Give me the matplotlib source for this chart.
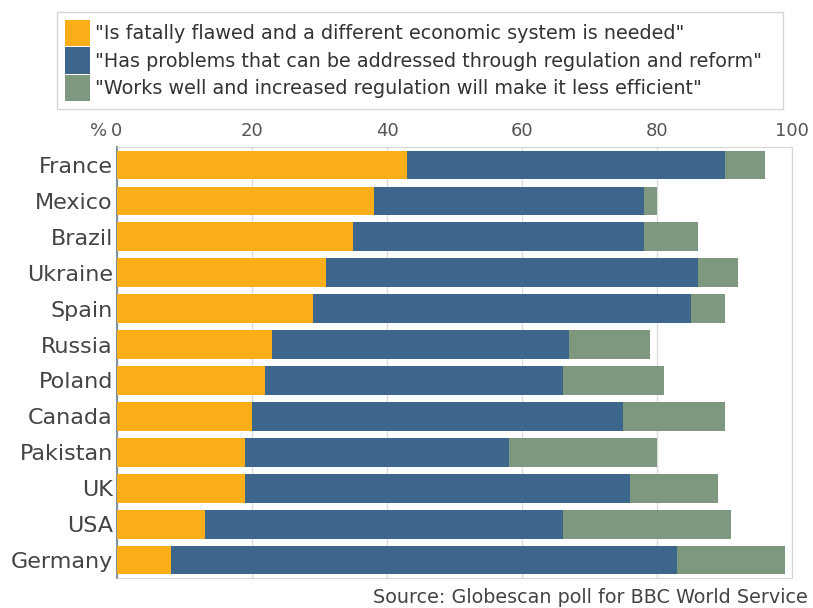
import numpy as np
import matplotlib.pyplot as plt
from matplotlib.patches import Patch

# poll answers, % of respondents
countries = ['France', 'Mexico', 'Brazil', 'Ukraine', 'Spain', 'Russia', 'Poland',
             'Canada', 'Pakistan', 'UK', 'USA', 'Germany']
flawed = np.array([43, 38, 35, 31, 29, 23, 22, 20, 19, 19, 13, 8])
problems = np.array([47, 40, 43, 55, 56, 44, 44, 55, 39, 57, 53, 75])
works = np.array([6, 2, 8, 6, 5, 12, 15, 15, 22, 13, 25, 16])

labels = ['"Is fatally flawed and a different economic system is needed"',
          '"Has problems that can be addressed through regulation and reform"',
          '"Works well and increased regulation will make it less efficient"']
colors = ['#FAAE17', '#3D668C', '#7E987F']
xticks = [0, 20, 40, 60, 80, 100]

plt.rcParams['font.family'] = ['DejaVu Sans']
fig = plt.figure(figsize=(8.13, 6.08), dpi=100)
ax = fig.add_axes([0.1439, 0.0493, 0.8303, 0.7089])

y = np.arange(len(countries))
h = 0.8
ax.barh(y, flawed, height=h, color=colors[0], zorder=3)
ax.barh(y, problems, height=h, left=flawed, color=colors[1], zorder=3)
ax.barh(y, works, height=h, left=flawed + problems, color=colors[2], zorder=3)

ax.set_xlim(0, 100)
ax.set_ylim(len(countries) - 0.5, -0.5)
ax.set_yticks(y)
ax.set_yticklabels(countries, fontsize=16, color='#444444')
ax.xaxis.tick_top()
ax.set_xticks(xticks)
ax.set_xticklabels([str(t) for t in xticks], fontsize=13, color='#555555')
ax.tick_params(axis='both', length=0)
ax.tick_params(axis='x', pad=5)
ax.tick_params(axis='y', pad=3)
ax.annotate('%', xy=(0, 1), xycoords='axes fraction', xytext=(-7, 5),
            textcoords='offset points', ha='right', va='bottom',
            fontsize=13, color='#555555')

ax.grid(axis='x', color='#dcdcdc', linewidth=1, zorder=0)
for s in ['top', 'right', 'bottom']:
    ax.spines[s].set_color('#d6d6d6')
ax.spines['left'].set_color('#7f8fa0')
ax.spines['left'].set_linewidth(1.5)

handles = [Patch(facecolor=c, edgecolor='none') for c in colors]
leg = fig.legend(handles, labels, loc='upper left',
                 bbox_to_anchor=(0.0701, 0.8158, 0.893, 0.1645), mode='expand',
                 fontsize=13.8, frameon=True, fancybox=False, edgecolor='#cccccc',
                 handlelength=1.3, handleheight=1.75, handletextpad=0.3,
                 labelspacing=0.05, borderpad=0.4, borderaxespad=0)
for t in leg.get_texts():
    t.set_color('#333333')

fig.text(0.994, 0.018, 'Source: Globescan poll for BBC World Service', ha='right',
         va='center', fontsize=13.8, color='#444444')

plt.savefig('out.png', dpi=100)
